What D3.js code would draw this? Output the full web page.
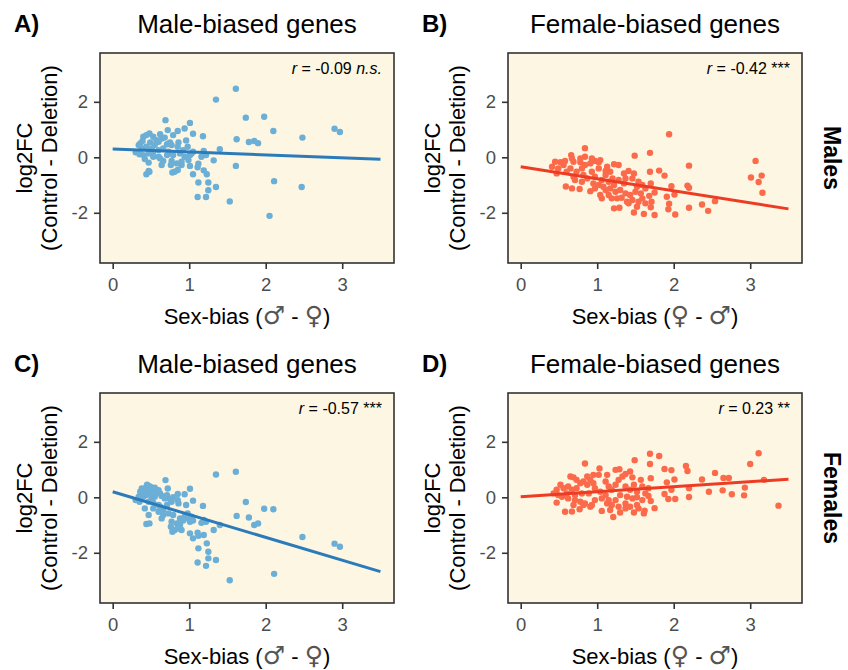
<!DOCTYPE html>
<html>
<head>
<meta charset="utf-8">
<script src="https://cdn.jsdelivr.net/npm/d3@7"></script>
<style>
  body { margin: 0; background: #fff; }
  svg text { font-family: "Liberation Sans", Arial, sans-serif; }
</style>
</head>
<body>
<div id="chart"></div>
<script>
const width = 848;
const height = 670;

// sex-bias (x) vs log2FC (y)
const maleGenesInMales = [
  [1.61,2.47],[1.35,2.08],[1.74,1.43],[1.98,1.46],[2.10,0.95],[2.48,0.71],[2.90,1.03],[2.97,0.91],
  [1.62,0.65],[1.78,0.55],[1.85,0.59],[1.90,0.51],[1.40,0.29],[1.32,-0.11],[1.61,-0.31],[2.11,-0.86],
  [2.47,-1.07],[2.05,-2.11],[1.53,-1.59],[1.35,-1.07],[1.25,-1.19],[1.25,-0.91],[1.12,-0.91],[1.11,-1.43],
  [1.22,-1.43],[1.23,-0.61],[1.19,-0.47],[1.11,-0.36],[1.05,-0.61],[1.01,-0.31],[1.12,-0.23],[1.18,0.76],
  [1.05,0.85],[1.01,1.24],[0.94,1.04],[0.69,1.34],[0.72,0.98],[0.85,0.95],[0.79,0.80],[0.96,0.61],
  [0.98,0.38],[1.19,0.23],[1.22,0.08],[1.16,0.02],[1.05,0.20],[1.01,0.08],[0.90,-0.28],[0.90,-0.16],
  [0.84,-0.22],[0.77,-0.13],[0.76,-0.28],[0.81,-0.52],[0.78,-0.55],[0.85,-0.46],[0.64,-0.28],[0.66,-0.13],
  [0.60,0.02],[0.71,0.08],[0.47,-0.19],[0.42,-0.06],[0.47,-0.49],[0.44,-0.61],[0.48,-0.52],[0.30,0.18],
  [0.35,0.11],[0.36,0.50],[0.40,0.74],[0.44,0.80],[0.48,0.86],[0.53,0.74],[0.57,0.62],[0.62,0.83],
  [0.64,0.68],[0.68,0.71],[0.75,0.54],[0.77,0.44],[0.86,0.54],[0.85,0.38],[0.55,0.44],[0.51,0.32],
  [0.44,0.38],[0.38,0.32],[0.47,0.14],[0.53,0.20],[0.60,0.26],[0.66,0.32],[0.73,0.20],[0.79,0.08],
  [0.88,0.14],[0.94,0.02],[0.53,0.02],[0.62,-0.04],[0.40,0.08],[0.49,0.54],[0.60,0.56],[0.71,0.47],
  [0.39,0.59],[0.34,0.44],[0.92,0.26],[0.99,-0.10],[1.03,0.14]
];

const femaleGenesInMales = [
  [1.94,0.83],[0.84,0.33],[0.66,0.08],[1.49,0.06],[1.69,0.16],[3.07,-0.13],[3.01,-0.73],[3.15,-0.66],
  [3.11,-0.89],[3.16,-1.28],[2.20,-0.30],[1.81,-0.48],[1.69,-0.52],[1.88,-0.66],[2.18,-1.02],[2.20,-1.10],
  [2.54,-1.58],[2.37,-1.70],[2.45,-1.93],[2.20,-1.82],[2.02,-2.06],[1.93,-1.87],[1.94,-1.67],[1.91,-1.42],
  [2.01,-1.34],[1.97,-1.04],[1.75,-2.08],[1.61,-2.04],[1.48,-1.99],[1.22,-1.84],[1.29,-1.82],[1.70,-1.80],
  [1.63,-1.66],[1.54,-1.60],[1.46,-1.54],[1.39,-1.60],[1.32,-1.46],[1.26,-1.48],[1.19,-1.48],[1.15,-1.36],
  [1.06,-1.48],[1.04,-1.36],[0.91,-1.22],[0.77,-1.14],[0.67,-1.12],[0.59,-1.05],[0.97,-1.12],[1.02,-1.00],
  [1.11,-1.18],[1.17,-1.12],[1.24,-1.24],[1.30,-1.18],[1.37,-1.30],[1.43,-1.36],[1.50,-1.24],[1.57,-1.30],
  [1.68,-1.39],[1.75,-1.27],[1.70,-0.94],[1.59,-1.00],[1.54,-0.88],[1.46,-0.76],[1.48,-0.58],[1.41,-0.49],
  [1.35,-0.58],[1.28,-0.28],[1.22,-0.25],[1.13,-0.34],[1.11,-0.64],[1.20,-0.76],[1.28,-0.82],[1.35,-0.94],
  [1.22,-1.00],[1.15,-0.88],[1.06,-0.82],[0.97,-0.70],[0.93,-0.52],[1.02,-0.40],[1.04,-0.10],[0.97,-0.13],
  [0.91,-0.22],[0.84,-0.28],[0.80,-0.40],[0.73,-0.52],[0.69,-0.70],[0.71,-0.82],[0.80,-0.88],[0.87,-0.76],
  [0.65,-0.40],[0.60,-0.52],[0.56,-0.28],[0.49,-0.40],[0.47,-0.58],[0.45,-0.16],[0.41,-0.34],[0.52,-0.18],
  [0.58,-0.13],[0.69,-0.16],[0.78,-0.18],[0.93,-0.04],[1.02,-0.18],[0.67,-0.04],[0.84,0.02],[0.78,-0.04],
  [1.11,-0.49],[1.17,-0.52],[1.37,-0.76],[1.52,-1.06],[1.63,-1.12],[1.41,-1.66],[1.52,-1.78],[1.59,-1.48],
  [1.71,-1.60],[0.82,-0.64],[0.95,-0.94],[1.08,-1.06]
];

const maleGenesInFemales = [
  [1.61,0.92],[1.35,0.82],[1.74,-0.17],[1.98,-0.41],[2.10,-0.43],[2.48,-1.43],[2.90,-1.67],[2.97,-1.78],
  [1.62,-0.67],[1.78,-0.73],[1.85,-1.00],[1.90,-0.94],[1.40,-1.00],[1.32,-1.18],[2.11,-2.76],[1.53,-2.99],
  [1.35,-2.26],[1.25,-2.20],[1.25,-1.96],[1.23,-1.66],[1.12,-1.84],[1.11,-2.35],[1.22,-2.47],[1.19,-1.36],
  [1.11,-1.28],[1.05,-1.48],[1.01,-1.30],[1.12,-1.39],[1.18,-0.31],[1.05,-0.12],[1.01,0.31],[0.94,0.11],
  [0.69,0.62],[0.72,0.32],[0.85,0.12],[0.79,0.00],[0.96,-0.28],[0.98,-0.58],[1.19,-0.82],[1.22,-0.88],
  [1.16,-0.92],[1.05,-0.84],[1.01,-0.88],[0.90,-1.18],[0.88,-1.00],[0.84,-0.94],[0.77,-0.88],[0.76,-1.06],
  [0.81,-1.18],[0.78,-1.24],[0.85,-1.12],[0.64,-0.76],[0.66,-0.64],[0.60,-0.52],[0.71,-0.28],[0.47,-0.64],
  [0.42,-0.40],[0.44,-0.96],[0.48,-0.94],[0.30,-0.10],[0.35,-0.16],[0.36,0.20],[0.38,0.32],[0.40,0.26],
  [0.44,0.38],[0.48,0.40],[0.51,0.32],[0.53,0.26],[0.57,0.20],[0.62,0.14],[0.64,0.05],[0.68,-0.04],
  [0.75,-0.07],[0.77,-0.16],[0.86,-0.22],[0.85,-0.10],[0.55,0.02],[0.51,-0.04],[0.44,0.08],[0.38,0.05],
  [0.47,-0.16],[0.53,-0.19],[0.60,-0.28],[0.66,-0.46],[0.73,-0.58],[0.79,-0.64],[0.88,-0.76],[0.94,-0.70],
  [0.53,-0.40],[0.62,-0.34],[0.40,0.02],[0.49,0.14],[0.60,0.26],[0.71,0.08],[0.39,0.14],[0.34,0.02],
  [0.92,-0.84],[0.99,-0.76],[1.03,-0.70],[0.42,0.30],[0.46,0.22],[0.50,0.36],[0.45,0.45],[0.55,0.35]
];

const femaleGenesInFemales = [
  [3.11,1.59],[3.00,1.20],[3.18,0.63],[3.37,-0.30],[2.93,0.35],[2.92,0.07],[2.76,0.11],[2.72,0.70],
  [2.65,0.70],[2.54,0.88],[2.64,0.25],[2.46,0.20],[2.37,0.64],[2.20,0.33],[2.20,0.01],[2.16,1.13],
  [2.18,0.95],[1.81,1.49],[1.69,1.57],[1.69,1.20],[1.49,1.34],[1.88,1.02],[1.97,0.98],[2.01,0.64],
  [1.91,0.54],[1.97,0.27],[1.93,-0.06],[2.02,-0.06],[1.88,0.12],[0.84,1.22],[1.03,1.04],[1.24,0.99],
  [1.29,1.01],[1.43,0.93],[1.37,0.84],[1.57,0.63],[1.70,0.69],[0.65,0.75],[0.69,0.72],[0.58,-0.52],
  [0.67,-0.51],[0.77,-0.43],[0.47,-0.19],[1.06,-0.49],[1.21,-0.71],[1.30,-0.55],[1.48,-0.55],[1.61,-0.58],
  [1.62,-0.48],[1.75,-0.39],[1.70,-0.13],[1.67,0.05],[1.59,-0.10],[1.52,-0.28],[1.43,-0.34],[1.37,-0.22],
  [1.28,-0.34],[1.19,-0.28],[1.13,-0.22],[1.15,-0.10],[1.06,-0.04],[0.97,-0.10],[0.91,-0.34],[0.84,-0.22],
  [0.78,-0.16],[0.71,-0.10],[0.62,-0.04],[0.54,0.02],[0.47,0.27],[0.49,0.08],[0.56,0.33],[0.62,0.39],
  [0.67,0.27],[0.73,0.33],[0.78,0.51],[0.82,0.57],[0.87,0.45],[0.91,0.63],[0.95,0.51],[0.97,0.33],
  [1.02,0.81],[1.11,0.57],[1.15,0.39],[1.19,0.27],[1.24,0.45],[1.28,0.63],[1.33,0.75],[1.37,0.39],
  [1.43,0.27],[1.48,0.45],[1.52,0.20],[1.59,0.39],[1.63,0.14],[1.67,0.33],[1.30,0.08],[1.24,-0.10],
  [1.39,0.02],[1.46,-0.04],[1.52,0.00],[0.89,0.14],[0.80,0.14],[0.71,0.08],[1.04,0.20],[1.11,0.08],
  [0.60,0.14],[0.43,0.14],[0.52,0.45],[0.73,0.63],[0.87,0.75],[0.95,0.81],[1.13,0.81],[1.46,0.72],
  [0.93,-0.28],[1.17,-0.46],[1.37,-0.40],[1.54,-0.40],[0.82,-0.28],[0.69,-0.28]
];

// fitted lines (intercept, slope)
const fitIntercepts = [0.30, -0.34, 0.20, 0.02];
const fitSlopes = [-0.106, -0.434, -0.823, 0.180];

const panelLetters = ["A)", "B)", "C)", "D)"];
const panelTitles = ["Male-biased genes", "Female-biased genes", "Male-biased genes", "Female-biased genes"];
const corrValues = ["-0.09", "-0.42", "-0.57", "0.23"];
const corrSignif = ["n.s.", "***", "***", "**"];
const rowLabels = ["Males", "Females"];
// symbols in the x-axis label: [first, second] per column
const sexSymbols = [["\u2642", "\u2640"], ["\u2640", "\u2642"]];
const xTicks = [0, 1, 2, 3];
const yTicks = [-2, 0, 2];

const panelW = 294;
const panelH = 210;
const colX = [100, 508];
const rowY = [53, 393];

const blue = { point: "#6baed6", line: "#2b7bba" };
const red = { point: "#fb6a4a", line: "#ee3b24" };

const panels = [
  { data: maleGenesInMales, col: 0, row: 0, colors: blue },
  { data: femaleGenesInMales, col: 1, row: 0, colors: red },
  { data: maleGenesInFemales, col: 0, row: 1, colors: blue },
  { data: femaleGenesInFemales, col: 1, row: 1, colors: red }
];

const svg = d3.select("#chart")
  .append("svg")
  .attr("width", width)
  .attr("height", height);

const xScale = d3.scaleLinear().domain([-0.166, 3.677]).range([0, panelW]);
const yScale = d3.scaleLinear().domain([-3.81, 3.76]).range([panelH, 0]);

panels.forEach((p, i) => {
  const x0 = colX[p.col];
  const y0 = rowY[p.row];
  const g = svg.append("g").attr("transform", `translate(${x0},${y0})`);

  g.append("rect")
    .attr("width", panelW)
    .attr("height", panelH)
    .attr("fill", "#fdf6e3");

  g.append("g").selectAll("circle")
    .data(p.data)
    .enter()
    .append("circle")
    .attr("cx", d => xScale(d[0]))
    .attr("cy", d => yScale(d[1]))
    .attr("r", 3.2)
    .attr("fill", p.colors.point);

  const fx = [0, 3.5];
  g.append("line")
    .attr("x1", xScale(fx[0]))
    .attr("y1", yScale(fitIntercepts[i] + fitSlopes[i] * fx[0]))
    .attr("x2", xScale(fx[1]))
    .attr("y2", yScale(fitIntercepts[i] + fitSlopes[i] * fx[1]))
    .attr("stroke", p.colors.line)
    .attr("stroke-width", 3);

  g.append("rect")
    .attr("width", panelW)
    .attr("height", panelH)
    .attr("fill", "none")
    .attr("stroke", "#333")
    .attr("stroke-width", 1.6);

  // axes
  const xAxis = d3.axisBottom(xScale).tickValues(xTicks).tickSize(6).tickPadding(9).tickFormat(d3.format("d"));
  const yAxis = d3.axisLeft(yScale).tickValues(yTicks).tickSize(6).tickPadding(6).tickFormat(d => d < 0 ? "-" + Math.abs(d) : d);

  const xg = g.append("g").attr("transform", `translate(0,${panelH})`).call(xAxis);
  const yg = g.append("g").call(yAxis);
  [xg, yg].forEach(ax => {
    ax.select(".domain").remove();
    ax.selectAll(".tick line").attr("stroke", "#333").attr("stroke-width", 1.6);
    ax.selectAll(".tick text")
      .attr("fill", "#4d4d4d")
      .style("font-size", "18.5px")
      .style("font-family", "'Liberation Sans', Arial, sans-serif");
  });

  // correlation label
  const ann = g.append("text")
    .attr("x", panelW - 12)
    .attr("y", 21)
    .attr("text-anchor", "end")
    .style("font-size", "16px")
    .attr("fill", "#000");
  ann.append("tspan").style("font-style", "italic").text("r");
  ann.append("tspan").text(" = " + corrValues[i] + " ");
  ann.append("tspan")
    .style("font-style", corrSignif[i] === "n.s." ? "italic" : "normal")
    .text(corrSignif[i]);

  // titles
  svg.append("text")
    .attr("x", x0 + panelW / 2)
    .attr("y", y0 - 20)
    .attr("text-anchor", "middle")
    .style("font-size", "26px")
    .text(panelTitles[i]);

  svg.append("text")
    .attr("x", x0 - 86)
    .attr("y", y0 - 21)
    .style("font-size", "24px")
    .style("font-weight", "bold")
    .text(panelLetters[i]);

  // axis titles
  const syms = sexSymbols[p.col];
  const xl = svg.append("text")
    .attr("x", x0 + panelW / 2)
    .attr("y", y0 + panelH + 61)
    .attr("text-anchor", "middle")
    .style("font-size", "22px");
  xl.append("tspan").text("Sex-bias (");
  xl.append("tspan").style("font-family", "'DejaVu Sans', sans-serif").style("font-size", "25px").attr("fill", "#555").text(syms[0]);
  xl.append("tspan").text(" - ");
  xl.append("tspan").style("font-family", "'DejaVu Sans', sans-serif").style("font-size", "25px").attr("fill", "#555").text(syms[1]);
  xl.append("tspan").text(")");

  const yl = svg.append("text")
    .attr("transform", `translate(${x0 - 68},${y0 + panelH / 2}) rotate(-90)`)
    .attr("text-anchor", "middle")
    .style("font-size", "22px");
  yl.append("tspan").attr("x", 0).attr("y", 0).text("log2FC");
  yl.append("tspan").attr("x", 0).attr("y", 25).text("(Control - Deletion)");
});

// row strip labels
rowLabels.forEach((lab, r) => {
  svg.append("text")
    .attr("transform", `translate(${colX[1] + panelW + 22},${rowY[r] + panelH / 2}) rotate(90)`)
    .attr("text-anchor", "middle")
    .style("font-size", "23px")
    .style("font-weight", "bold")
    .text(lab);
});
</script>
</body>
</html>
